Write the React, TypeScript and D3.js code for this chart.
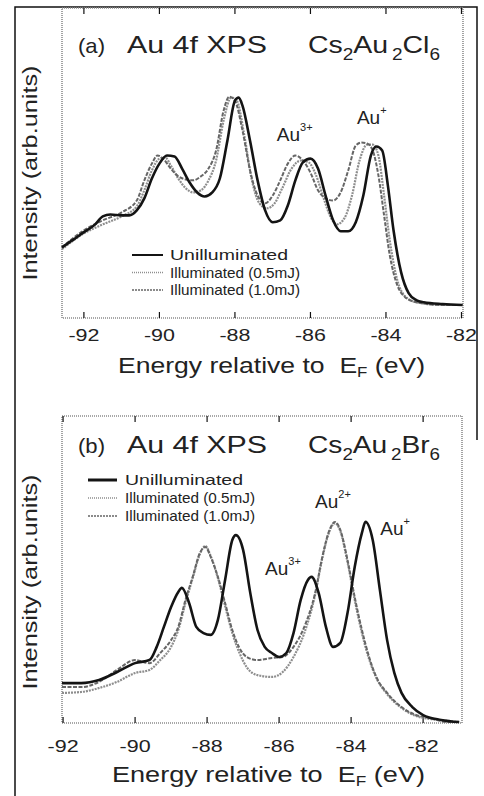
import React, { useEffect, useRef } from 'react';
import * as d3 from 'd3';

type Pt = [number, number];

// [energy relative to E_F (eV), intensity (arb. units)]
// panel (a) Cs2Au2Cl6
const clUnilluminated: Pt[] = [
  [-92.58, 22.8], [-92.3, 25.1], [-92.0, 27.7], [-91.7, 30.2], [-91.5, 32.8], [-91.3, 33.4],
  [-91.0, 33.1], [-90.8, 33.1], [-90.6, 34.7], [-90.4, 38.6], [-90.2, 45.0], [-90.0, 49.8],
  [-89.8, 52.4], [-89.6, 52.1], [-89.4, 48.2], [-89.2, 43.7], [-89.0, 40.5], [-88.8, 39.2],
  [-88.6, 40.5], [-88.4, 45.0], [-88.2, 57.2], [-88.0, 70.1], [-87.9, 71.1], [-87.8, 68.5],
  [-87.6, 57.2], [-87.4, 44.4], [-87.2, 34.7], [-87.0, 30.9], [-86.8, 31.5], [-86.6, 36.3],
  [-86.4, 44.4], [-86.2, 50.2], [-86.0, 51.4], [-85.8, 48.2], [-85.6, 39.5], [-85.4, 31.5],
  [-85.2, 28.0], [-85.0, 28.0], [-84.8, 30.9], [-84.6, 39.5], [-84.4, 52.4], [-84.25, 55.3],
  [-84.1, 54.0], [-83.95, 42.8], [-83.8, 28.3], [-83.6, 14.8], [-83.4, 8.0], [-83.2, 5.8],
  [-83.0, 5.1], [-82.5, 4.5], [-81.97, 4.2],
];
const clIlluminated05: Pt[] = [
  [-92.58, 22.2], [-92.0, 27.3], [-91.5, 30.2], [-91.0, 32.8], [-90.6, 36.0], [-90.4, 41.2],
  [-90.2, 47.6], [-90.0, 51.4], [-89.85, 51.8], [-89.7, 49.2], [-89.5, 45.0], [-89.3, 41.8],
  [-89.1, 40.5], [-88.9, 41.2], [-88.7, 44.4], [-88.5, 50.8], [-88.3, 63.7], [-88.1, 71.1],
  [-87.95, 70.1], [-87.75, 58.8], [-87.55, 44.4], [-87.35, 37.0], [-87.15, 35.4], [-86.95, 37.0],
  [-86.75, 41.8], [-86.5, 48.2], [-86.25, 50.8], [-86.05, 50.2], [-85.85, 46.0], [-85.65, 38.6],
  [-85.45, 32.2], [-85.3, 30.2], [-85.1, 32.2], [-84.9, 39.5], [-84.7, 50.8], [-84.5, 55.9],
  [-84.35, 55.9], [-84.2, 52.4], [-84.05, 39.5], [-83.9, 25.1], [-83.7, 12.2], [-83.5, 7.1],
  [-83.2, 5.1], [-82.5, 4.2], [-81.97, 4.2],
];
const clIlluminated10: Pt[] = [
  [-92.58, 22.8], [-92.0, 28.3], [-91.5, 31.5], [-91.0, 34.1], [-90.6, 37.9], [-90.4, 44.4],
  [-90.2, 49.8], [-90.05, 52.4], [-89.9, 51.4], [-89.7, 48.2], [-89.5, 45.7], [-89.3, 44.7],
  [-89.1, 44.4], [-88.9, 45.7], [-88.7, 48.2], [-88.5, 54.0], [-88.3, 66.9], [-88.15, 71.4],
  [-88.0, 70.1], [-87.8, 60.5], [-87.6, 47.6], [-87.4, 39.5], [-87.2, 37.0], [-87.0, 39.5],
  [-86.8, 44.4], [-86.6, 49.8], [-86.4, 52.4], [-86.2, 50.8], [-86.0, 46.9], [-85.8, 41.2],
  [-85.6, 38.6], [-85.4, 37.9], [-85.2, 40.5], [-85.0, 47.6], [-84.8, 55.6], [-84.65, 56.6],
  [-84.5, 56.3], [-84.35, 54.0], [-84.2, 46.0], [-84.05, 33.1], [-83.9, 20.3], [-83.7, 10.6],
  [-83.5, 6.8], [-83.2, 5.1], [-82.5, 4.2], [-81.97, 4.2],
];

// panel (b) Cs2Au2Br6
const brUnilluminated: Pt[] = [
  [-92.03, 13.0], [-91.5, 13.0], [-91.0, 14.0], [-90.5, 16.6], [-90.0, 19.5], [-89.6, 20.5],
  [-89.4, 24.8], [-89.2, 31.3], [-89.0, 37.8], [-88.8, 42.7], [-88.7, 44.0], [-88.5, 39.1],
  [-88.3, 31.3], [-88.1, 29.3], [-87.9, 28.7], [-87.7, 33.6], [-87.5, 46.6], [-87.3, 59.6],
  [-87.2, 61.2], [-87.0, 56.4], [-86.8, 42.3], [-86.6, 30.3], [-86.4, 24.8], [-86.2, 22.8],
  [-86.0, 21.5], [-85.8, 22.8], [-85.6, 29.3], [-85.4, 40.1], [-85.2, 46.6], [-85.1, 47.6],
  [-84.9, 42.3], [-84.7, 31.3], [-84.5, 24.8], [-84.3, 26.1], [-84.1, 35.8], [-83.9, 50.8],
  [-83.7, 61.9], [-83.6, 65.5], [-83.4, 59.6], [-83.2, 43.3], [-83.0, 27.0], [-82.8, 16.3],
  [-82.6, 9.8], [-82.3, 5.2], [-82.0, 2.6], [-81.5, 1.0], [-81.0, 0.3],
];
const brIlluminated05: Pt[] = [
  [-92.03, 9.8], [-91.5, 10.1], [-91.0, 11.4], [-90.5, 13.4], [-90.0, 16.3], [-89.6, 17.3],
  [-89.3, 20.5], [-89.0, 24.8], [-88.8, 30.3], [-88.6, 39.1], [-88.4, 47.2], [-88.2, 55.0],
  [-88.05, 57.7], [-87.9, 54.4], [-87.7, 47.2], [-87.5, 38.1], [-87.3, 29.3], [-87.1, 22.8],
  [-86.9, 18.2], [-86.6, 15.6], [-86.2, 15.0], [-85.9, 16.6], [-85.6, 21.5], [-85.3, 29.3],
  [-85.0, 41.7], [-84.8, 53.7], [-84.6, 62.5], [-84.45, 65.1], [-84.3, 62.5], [-84.1, 52.4],
  [-83.9, 40.1], [-83.7, 29.3], [-83.5, 20.8], [-83.3, 14.7], [-83.0, 9.4], [-82.6, 4.9],
  [-82.2, 2.3], [-81.8, 1.3], [-81.3, 0.7], [-81.0, 0.3],
];
const brIlluminated10: Pt[] = [
  [-92.03, 11.7], [-91.5, 11.7], [-91.0, 13.4], [-90.5, 17.3], [-90.0, 20.5], [-89.6, 19.5],
  [-89.3, 22.8], [-89.0, 27.0], [-88.8, 31.3], [-88.6, 40.1], [-88.4, 47.6], [-88.2, 55.4],
  [-88.05, 57.3], [-87.9, 54.1], [-87.7, 47.6], [-87.5, 39.1], [-87.3, 30.3], [-87.1, 24.4],
  [-86.9, 21.5], [-86.6, 20.5], [-86.2, 21.2], [-85.9, 21.5], [-85.6, 24.8], [-85.3, 31.3],
  [-85.0, 42.3], [-84.8, 54.1], [-84.6, 62.9], [-84.45, 65.5], [-84.3, 62.9], [-84.1, 53.1],
  [-83.9, 41.0], [-83.7, 30.3], [-83.5, 21.5], [-83.3, 15.0], [-83.0, 9.8], [-82.6, 5.2],
  [-82.2, 2.6], [-81.8, 1.6], [-81.3, 0.3], [-81.0, 0.3],
];

const xTicks = [-92, -90, -88, -86, -84, -82];
const legendLabels = ['Unilluminated', 'Illuminated (0.5mJ)', 'Illuminated (1.0mJ)'];
const formulaA = ['Cs', '2', 'Au', '2', 'Cl', '6'];
const formulaB = ['Cs', '2', 'Au', '2', 'Br', '6'];
// [label, superscript, energy, intensity]
const peaksA: [string, string, number, number][] = [['Au', '3+', -86.89, 57.2], ['Au', '+', -84.77, 62.7]];
const peaksB: [string, string, number, number][] = [
  ['Au', '2+', -85.0, 70.0], ['Au', '3+', -86.39, 48.2], ['Au', '+', -83.19, 61.2],
];

// line styles: unilluminated, 0.5mJ, 1.0mJ
const styles = [
  { color: '#141414', width: 2.6, dash: '' },
  { color: '#8e8e8e', width: 2.2, dash: '2,1' },
  { color: '#666', width: 2, dash: '4,1.5' },
];

const panels = [
  {
    tag: '(a)', formula: formulaA, peaks: peaksA,
    series: [clUnilluminated, clIlluminated05, clIlluminated10],
    box: { left: 62, right: 463, top: 8, bottom: 318 },
    xDomain: [-92.58, -81.96], titleY: 53, tickY: 341, labelY: 373, labelX: 118, labelW: 307,
    yLabelY: 173,
    legend: { x1: 132, x2: 163, tx: 170, y0: 260, dy: 17.5, blackW: 2 },
  },
  {
    tag: '(b)', formula: formulaB, peaks: peaksB,
    series: [brUnilluminated, brIlluminated05, brIlluminated10],
    box: { left: 62, right: 462, top: 416, bottom: 723 },
    xDomain: [-92.03, -80.92], titleY: 453, tickY: 752, labelY: 782, labelX: 112, labelW: 313,
    yLabelY: 582,
    legend: { x1: 88, x2: 117, tx: 125, y0: 485, dy: 18, blackW: 3 },
  },
];

const App = () => {
  const svgRef = useRef<SVGSVGElement>(null);

  useEffect(() => {
    const svg = d3.select(svgRef.current);
    svg.selectAll('*').remove();

    const txt = (g: any, x: number, y: number, s: string, size: number, len?: number, anchor = 'start') => {
      const t = g.append('text')
        .attr('x', x).attr('y', y)
        .attr('font-size', size)
        .attr('text-anchor', anchor)
        .attr('fill', '#222')
        .text(s);
      if (len) t.attr('textLength', len).attr('lengthAdjust', 'spacingAndGlyphs');
      return t;
    };

    // outer frame
    svg.append('path')
      .attr('d', 'M15,796 L15,7 L477,7 L477,440')
      .attr('fill', 'none').attr('stroke', '#111').attr('stroke-width', 1.5);

    panels.forEach(p => {
      const g = svg.append('g');
      const b = p.box;
      const x = d3.scaleLinear().domain(p.xDomain).range([b.left, b.right]);
      const y = d3.scaleLinear().domain([0, 100]).range([b.bottom, b.top]);

      // plot border (dotted grey)
      g.append('rect')
        .attr('x', b.left).attr('y', b.top)
        .attr('width', b.right - b.left).attr('height', b.bottom - b.top)
        .attr('fill', 'none').attr('stroke', '#8c8c8c')
        .attr('stroke-width', 1.6).attr('stroke-dasharray', '1,1');

      // ticks top and bottom, pointing inward
      xTicks.forEach(t => {
        const px = x(t);
        g.append('line').attr('x1', px).attr('x2', px).attr('y1', b.bottom).attr('y2', b.bottom - 6)
          .attr('stroke', '#111').attr('stroke-width', 1.2);
        g.append('line').attr('x1', px).attr('x2', px).attr('y1', b.top).attr('y2', b.top + 6)
          .attr('stroke', '#111').attr('stroke-width', 1.2);
        txt(g, px, p.tickY, String(t), 17, 31, 'middle');
      });

      // curves
      const line = d3.line<Pt>()
        .x(d => x(d[0]))
        .y(d => y(d[1]))
        .curve(d3.curveMonotoneX);
      [1, 2, 0].forEach(i => {
        g.append('path')
          .datum(p.series[i])
          .attr('d', line)
          .attr('fill', 'none')
          .attr('stroke', styles[i].color)
          .attr('stroke-width', styles[i].width)
          .attr('stroke-dasharray', styles[i].dash || null)
          .attr('stroke-linejoin', 'round');
      });

      // titles
      txt(g, 78, p.titleY, p.tag, 21, 27);
      txt(g, 127, p.titleY, 'Au 4f XPS', 24, 140);
      const f = g.append('text').attr('x', 308).attr('y', p.titleY)
        .attr('font-size', 24).attr('fill', '#222')
        .attr('textLength', 132).attr('lengthAdjust', 'spacingAndGlyphs');
      p.formula.forEach((s, i) => {
        const sub = i % 2 === 1;
        f.append('tspan')
          .attr('font-size', sub ? 16 : 24)
          .attr('dy', i === 0 ? 0 : sub ? 7 : -7)
          .text(sub && i === 3 ? '\u2009' + s : s);
      });

      // peak labels
      p.peaks.forEach(([lab, sup, e, v]) => {
        const t = g.append('text').attr('x', x(e)).attr('y', y(v))
          .attr('font-size', 19).attr('fill', '#222');
        t.append('tspan').text(lab);
        t.append('tspan').attr('font-size', 11).attr('dy', -10).text(sup);
      });

      // legend
      const L = p.legend;
      legendLabels.forEach((lab, i) => {
        const ly = L.y0 + i * L.dy;
        g.append('line')
          .attr('x1', L.x1).attr('x2', L.x2).attr('y1', ly - 5).attr('y2', ly - 5)
          .attr('stroke', styles[i].color)
          .attr('stroke-width', i === 0 ? L.blackW : 1.6)
          .attr('stroke-dasharray', i === 1 ? '1,1' : i === 2 ? '2,1' : null);
        txt(g, L.tx, ly, lab, 15, i === 0 ? 118 : 130);
      });

      // axis labels
      const xl = txt(g, p.labelX, p.labelY, 'Energy relative to  E', 22);
      xl.attr('textLength', p.labelW).attr('lengthAdjust', 'spacingAndGlyphs').style('white-space', 'pre');
      xl.append('tspan').attr('font-size', 14).attr('dy', 4).text('F');
      xl.append('tspan').attr('dy', -4).text(' (eV)');

      g.append('text')
        .attr('transform', `translate(37,${p.yLabelY}) rotate(-90)`)
        .attr('text-anchor', 'middle')
        .attr('font-size', 20)
        .attr('fill', '#222')
        .attr('textLength', 215).attr('lengthAdjust', 'spacingAndGlyphs')
        .text('Intensity (arb.units)');
    });
  }, []);

  return (
    <svg
      ref={svgRef}
      width={484}
      height={796}
      style={{ position: 'absolute', left: 0, top: 0, background: '#fff' }}
      fontFamily="'Liberation Sans', Arial, sans-serif"
    />
  );
};

export default App;
